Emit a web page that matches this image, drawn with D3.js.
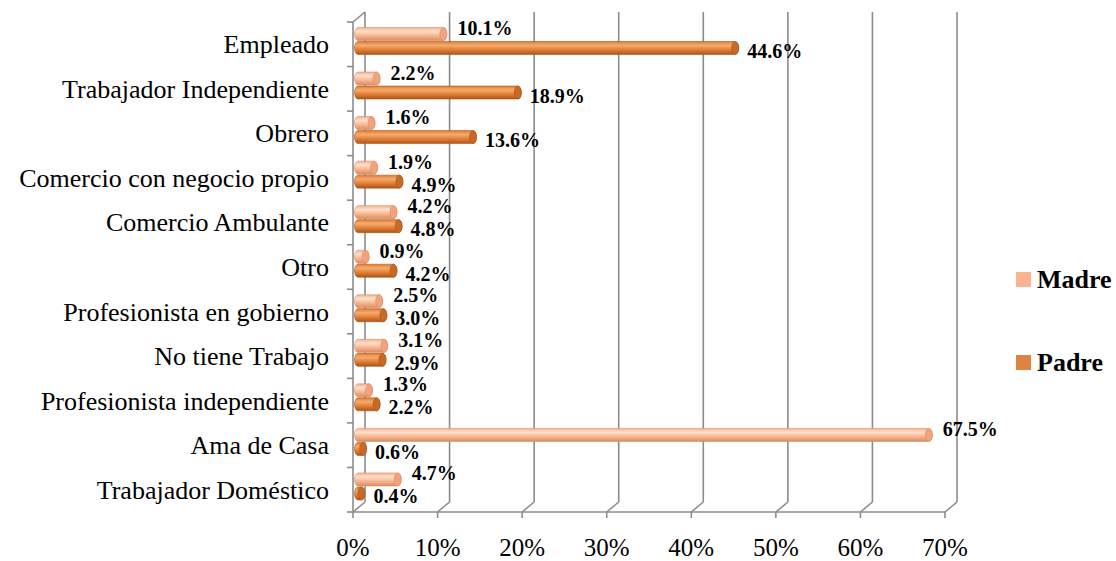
<!DOCTYPE html>
<html>
<head>
<meta charset="utf-8">
<script src="https://cdn.jsdelivr.net/npm/d3@7"></script>
<style>
  body { margin: 0; background: #fff; }
  text { font-family: "Liberation Serif", "Times New Roman", serif; }
</style>
</head>
<body>
<svg id="chart" width="1116" height="561"></svg>
<script>
const categories = ['Empleado', 'Trabajador Independiente', 'Obrero', 'Comercio con negocio propio',
    'Comercio Ambulante', 'Otro', 'Profesionista en gobierno', 'No tiene Trabajo',
    'Profesionista independiente', 'Ama de Casa', 'Trabajador Doméstico'];
const seriesNames = ['Madre', 'Padre'];
const madreValues = [10.1, 2.2, 1.6, 1.9, 4.2, 0.9, 2.5, 3.1, 1.3, 67.5, 4.7];
const padreValues = [44.6, 18.9, 13.6, 4.9, 4.8, 4.2, 3.0, 2.9, 2.2, 0.6, 0.4];
const xTicks = [0, 10, 20, 30, 40, 50, 60, 70];

const svg = d3.select('#chart');

// 3D depth offset of the back wall
const DX = 12, DY = -10;
const BOTTOM = 512, TOP = 22;

const xScale = d3.scaleLinear().domain([0, 70]).range([353, 945]);
const yScale = d3.scaleBand().domain(categories).range([TOP, BOTTOM]);
const ySub = d3.scaleBand().domain(seriesNames).range([5, 33]);

const colors = {
    Madre: {light: '#fde0cf', mid: '#f8b38c', dark: '#d98d66', cap: '#f1a47c'},
    Padre: {light: '#f5ab6f', mid: '#e07d33', dark: '#a9561b', cap: '#c86a26'}
};

// gradients for cylinder look
const defs = svg.append('defs');
seriesNames.forEach(s => {
    const g = defs.append('linearGradient').attr('id', 'grad-' + s)
        .attr('x1', 0).attr('y1', 0).attr('x2', 0).attr('y2', 1);
    g.append('stop').attr('offset', '0%').attr('stop-color', colors[s].mid);
    g.append('stop').attr('offset', '30%').attr('stop-color', colors[s].light);
    g.append('stop').attr('offset', '65%').attr('stop-color', colors[s].mid);
    g.append('stop').attr('offset', '100%').attr('stop-color', colors[s].dark);
});

const grid = svg.append('g').attr('stroke', '#8c8c8c').attr('stroke-width', 1.6).attr('fill', 'none');

// back wall gridlines + floor diagonals
grid.selectAll('.vgrid').data(xTicks).join('line')
    .attr('x1', d => xScale(d) + DX).attr('x2', d => xScale(d) + DX)
    .attr('y1', BOTTOM + DY).attr('y2', TOP + DY);
grid.selectAll('.diag').data(xTicks).join('line')
    .attr('x1', d => xScale(d)).attr('x2', d => xScale(d) + DX)
    .attr('y1', BOTTOM).attr('y2', BOTTOM + DY);

// front bottom edge and ticks
grid.append('line')
    .attr('x1', xScale(0)).attr('x2', xScale(70))
    .attr('y1', BOTTOM).attr('y2', BOTTOM);
grid.selectAll('.xtick').data(xTicks).join('line')
    .attr('x1', d => xScale(d)).attr('x2', d => xScale(d))
    .attr('y1', BOTTOM).attr('y2', BOTTOM + 6);

// left front edge and ticks
grid.append('line')
    .attr('x1', xScale(0)).attr('x2', xScale(0))
    .attr('y1', TOP).attr('y2', BOTTOM);
grid.append('line')
    .attr('x1', xScale(0)).attr('x2', xScale(0) + DX)
    .attr('y1', TOP).attr('y2', TOP + DY);
const bandEdges = categories.map(c => yScale(c)).concat([BOTTOM]);
grid.selectAll('.ytick').data(bandEdges).join('line')
    .attr('x1', xScale(0) - 6).attr('x2', xScale(0))
    .attr('y1', d => d).attr('y2', d => d);

// x tick labels
svg.append('g').selectAll('text').data(xTicks).join('text')
    .attr('x', d => xScale(d)).attr('y', 556)
    .attr('text-anchor', 'middle')
    .attr('font-size', 25)
    .text(d => d + '%');

// category labels
svg.append('g').selectAll('text').data(categories).join('text')
    .attr('x', 329)
    .attr('y', d => yScale(d) + yScale.bandwidth() / 2 + 9)
    .attr('text-anchor', 'end')
    .attr('font-size', 26)
    .text(d => d);

// bars
const rows = [];
categories.forEach((c, i) => {
    rows.push({cat: c, series: 'Madre', value: madreValues[i]});
    rows.push({cat: c, series: 'Padre', value: padreValues[i]});
});

const BAR_H = 13, RX = 3.5, X_OFF = 5;
const barG = svg.append('g');

function cylPath(d) {
    const x0 = xScale(0) + X_OFF;
    const x1 = Math.max(xScale(d.value) + X_OFF, x0 + 1);
    const cy = yScale(d.cat) + ySub(d.series) + ySub.bandwidth() / 2;
    const yt = cy - BAR_H / 2, yb = cy + BAR_H / 2;
    return `M${x0},${yt} L${x1},${yt} A${RX},${BAR_H / 2} 0 0 1 ${x1},${yb} L${x0},${yb} A${RX},${BAR_H / 2} 0 0 1 ${x0},${yt} Z`;
}

barG.selectAll('path').data(rows).join('path')
    .attr('d', cylPath)
    .attr('fill', d => `url(#grad-${d.series})`)
    .attr('stroke', d => colors[d.series].dark)
    .attr('stroke-width', 0.6);

barG.selectAll('ellipse').data(rows).join('ellipse')
    .attr('cx', d => Math.max(xScale(d.value) + X_OFF, xScale(0) + X_OFF + 1))
    .attr('cy', d => yScale(d.cat) + ySub(d.series) + ySub.bandwidth() / 2)
    .attr('rx', RX).attr('ry', BAR_H / 2)
    .attr('fill', d => colors[d.series].cap)
    .attr('stroke', d => colors[d.series].dark)
    .attr('stroke-width', 0.6);

// value labels
svg.append('g').selectAll('text').data(rows).join('text')
    .attr('x', d => xScale(d.value) + X_OFF + (d.series === 'Madre' ? 14 : 12))
    .attr('y', d => yScale(d.cat) + ySub(d.series) + ySub.bandwidth() / 2 + (d.series === 'Madre' ? -6 : 3) + 7)
    .attr('font-size', 20)
    .attr('font-weight', 'bold')
    .text(d => d.value.toFixed(1) + '%');

// legend
const legend = svg.append('g').selectAll('g').data(seriesNames).join('g')
    .attr('transform', (d, i) => `translate(1016, ${272 + i * 83})`);
legend.append('rect')
    .attr('width', 15).attr('height', 15)
    .attr('fill', d => d === 'Madre' ? '#f9b491' : '#dd8443');
legend.append('text')
    .attr('x', 21).attr('y', 16)
    .attr('font-size', 26)
    .attr('font-weight', 'bold')
    .text(d => d);
</script>
</body>
</html>
